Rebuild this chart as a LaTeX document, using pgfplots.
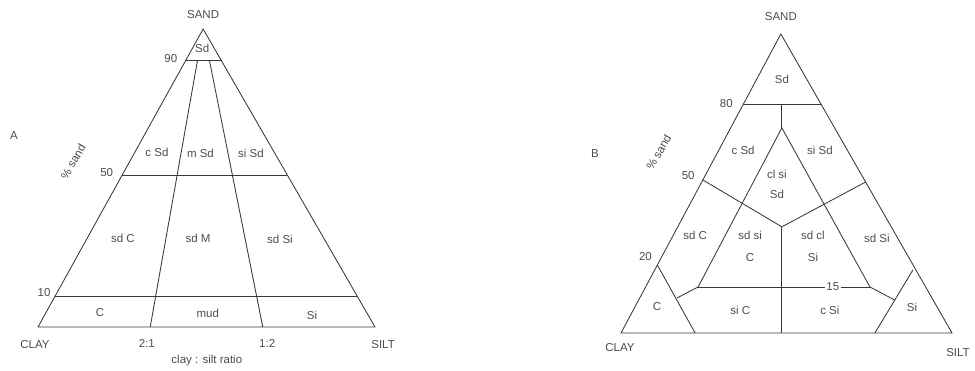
\documentclass[border=0pt]{standalone}
\usepackage{fontspec}
\setmainfont{Liberation Sans}
\usepackage{pgfplots}
\pgfplotsset{compat=1.18}

\definecolor{ink}{gray}{0.22}
\definecolor{txt}{gray}{0.3}

\pgfplotsset{
  tern/.style={
    hide axis, scale only axis, clip=false,
    xmin=0, xmax=100, ymin=0, ymax=100,
    anchor=south west,
  },
  seg/.style={ink, line width=0.85pt, no markers},
}
\tikzset{lbl/.style={font=\fontsize{11.5}{12}\selectfont, text=txt, inner sep=1pt}}

\begin{document}
\begin{tikzpicture}[x=1pt,y=1pt]
\useasboundingbox (0,0) rectangle (975,371);

% ---------------- A: sand / clay:silt ratio ----------------
\begin{axis}[tern, width=337pt, height=298pt, at={(38pt,44pt)}]
  % outer triangle
  \addplot[seg] coordinates {(0,0) (100,0) (49,100) (0,0)};
  % % sand = 90, 50, 10
  \addplot[seg] coordinates {(43.8,89.3) (54.5,89.3)};
  \addplot[seg] coordinates {(25.0,51.0) (74.0,51.0)};
  \addplot[seg] coordinates {(5.1,10.4) (94.7,10.4)};
  % clay:silt 2:1 and 1:2
  \addplot[seg] coordinates {(33.3,0) (47.3,89.3)};
  \addplot[seg] coordinates {(66.7,0) (50.9,89.3)};

  \node[lbl] at (axis cs:49,104.7) {SAND};
  \node[lbl] at (axis cs:48.7,93.6) {Sd};
  \node[lbl] at (axis cs:39.4,90.2) {90};
  \node[lbl] at (axis cs:20.4,51.9) {50};
  \node[lbl] at (axis cs:1.8,11.6) {10};
  \node[lbl, rotate=60] at (axis cs:10.4,55.4) {\% sand};
  \node[lbl] at (axis cs:-7.1,64.4) {A};
  \node[lbl] at (axis cs:35.3,58.7) {c Sd};
  \node[lbl] at (axis cs:48.2,58.1) {m Sd};
  \node[lbl] at (axis cs:63.2,58.4) {si Sd};
  \node[lbl] at (axis cs:25.2,29.9) {sd C};
  \node[lbl] at (axis cs:47.5,29.9) {sd M};
  \node[lbl] at (axis cs:71.8,29.5) {sd Si};
  \node[lbl] at (axis cs:18.4,4.7) {C};
  \node[lbl] at (axis cs:50.4,4.7) {mud};
  \node[lbl] at (axis cs:81.3,4.0) {Si};
  \node[lbl] at (axis cs:-0.9,-6.0) {CLAY};
  \node[lbl] at (axis cs:32.3,-5.7) {2:1};
  \node[lbl] at (axis cs:68.0,-5.7) {1:2};
  \node[lbl] at (axis cs:102.4,-6.0) {SILT};
  \node[lbl] at (axis cs:50.1,-11.4) {clay : silt ratio};
\end{axis}

% ---------------- B: sand / clay / silt ----------------
\begin{axis}[tern, width=331pt, height=299pt, at={(621pt,38pt)}]
  % outer triangle
  \addplot[seg] coordinates {(0,0) (100,0) (48.3,100) (0,0)};
  % 80 % sand
  \addplot[seg] coordinates {(37.0,76.6) (60.4,76.6)};
  \addplot[seg] coordinates {(48.6,76.6) (48.6,68.6)};
  % inner clayey silty sand wedge
  \addplot[seg] coordinates {(23.3,15.4) (48.6,68.6) (75.2,15.4)};
  % Y across the middle
  \addplot[seg] coordinates {(24.7,51.2) (48.6,35.5) (73.9,50.5)};
  \addplot[seg] coordinates {(48.6,35.5) (48.6,0)};
  % 15 line
  \addplot[seg] coordinates {(23.3,15.4) (75.2,15.4)};
  % clay and silt corners
  \addplot[seg] coordinates {(11.0,22.7) (22.4,0)};
  \addplot[seg] coordinates {(88.2,21.1) (76.7,0)};
  \addplot[seg] coordinates {(23.3,15.4) (16.9,11.7)};
  \addplot[seg] coordinates {(75.2,15.4) (82.7,11.0)};

  \node[lbl] at (axis cs:48.3,105.7) {SAND};
  \node[lbl] at (axis cs:48.6,84.9) {Sd};
  \node[lbl] at (axis cs:31.8,76.9) {80};
  \node[lbl] at (axis cs:20.3,52.8) {50};
  \node[lbl] at (axis cs:7.4,25.6) {20};
  \node[lbl, fill=white, inner sep=1.5pt] at (axis cs:64.0,15.4) {15};
  \node[lbl, rotate=60] at (axis cs:11.4,60.5) {\% sand};
  \node[lbl] at (axis cs:-7.9,59.9) {B};
  \node[lbl] at (axis cs:36.9,61.2) {c Sd};
  \node[lbl] at (axis cs:60.1,61.2) {si Sd};
  \node[lbl] at (axis cs:47.1,53.2) {cl si};
  \node[lbl] at (axis cs:47.1,46.2) {Sd};
  \node[lbl] at (axis cs:22.4,32.8) {sd C};
  \node[lbl] at (axis cs:39.0,32.8) {sd si};
  \node[lbl] at (axis cs:39.0,25.4) {C};
  \node[lbl] at (axis cs:58.0,32.8) {sd cl};
  \node[lbl] at (axis cs:58.0,25.4) {Si};
  \node[lbl] at (axis cs:77.3,31.8) {sd Si};
  \node[lbl] at (axis cs:10.9,9.0) {C};
  \node[lbl] at (axis cs:36.0,7.7) {si C};
  \node[lbl] at (axis cs:63.1,7.7) {c Si};
  \node[lbl] at (axis cs:87.9,8.4) {Si};
  \node[lbl] at (axis cs:-0.3,-4.7) {CLAY};
  \node[lbl] at (axis cs:101.8,-6.4) {SILT};
\end{axis}
\end{tikzpicture}
\end{document}
